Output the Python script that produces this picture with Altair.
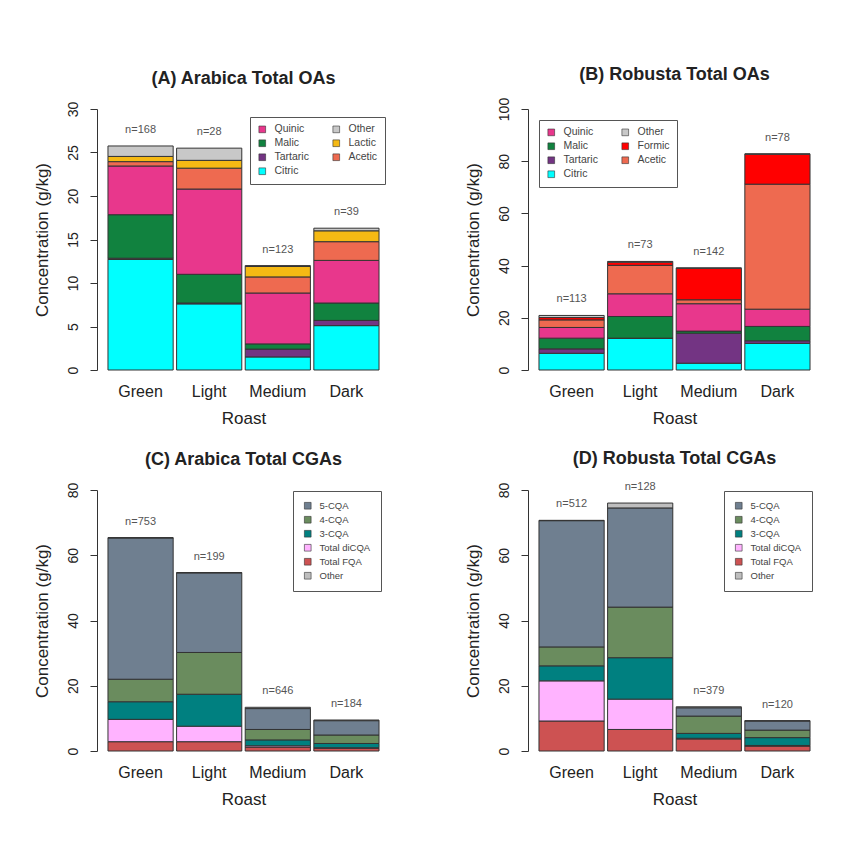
import altair as alt
import pandas as pd

roasts = ["Green", "Light", "Medium", "Dark"]

# ---- (A) Arabica organic acids (g/kg), stacked bottom -> top
ara_citric = [12.7, 7.6, 1.5, 5.1]
ara_tartaric = [0.15, 0.1, 0.9, 0.6]
ara_malic = [5.0, 3.3, 0.6, 2.0]
ara_quinic = [5.6, 9.8, 5.85, 4.9]
ara_acetic = [0.5, 2.4, 1.85, 2.15]
ara_lactic = [0.6, 0.9, 1.2, 1.25]
ara_other = [1.2, 1.4, 0.1, 0.3]
ara_oa_n = ["n=168", "n=28", "n=123", "n=39"]

# ---- (B) Robusta organic acids
rob_citric = [6.4, 12.1, 2.6, 10.2]
rob_tartaric = [1.7, 0.1, 11.5, 1.0]
rob_malic = [4.1, 8.3, 0.8, 5.5]
rob_quinic = [4.1, 8.7, 10.5, 6.6]
rob_acetic = [2.9, 10.9, 1.5, 47.9]
rob_formic = [0.9, 1.2, 12.1, 11.5]
rob_other = [0.8, 0.3, 0.1, 0.1]
rob_oa_n = ["n=113", "n=73", "n=142", "n=78"]

# ---- (C) Arabica chlorogenic acids
ara_fqa = [2.85, 2.85, 1.2, 0.8]
ara_dicqa = [6.85, 4.75, 0.4, 0.2]
ara_3cqa = [5.4, 9.8, 1.8, 1.3]
ara_4cqa = [6.9, 12.8, 3.2, 2.6]
ara_5cqa = [43.3, 24.4, 6.4, 4.4]
ara_cga_other = [0.1, 0.1, 0.4, 0.2]
ara_cga_n = ["n=753", "n=199", "n=646", "n=184"]

# ---- (D) Robusta chlorogenic acids
rob_fqa = [9.2, 6.6, 3.7, 1.5]
rob_dicqa = [12.3, 9.3, 0.2, 0.2]
rob_3cqa = [4.6, 12.7, 1.5, 2.4]
rob_4cqa = [5.8, 15.5, 5.3, 2.3]
rob_5cqa = [38.7, 30.4, 2.55, 2.8]
rob_cga_other = [0.1, 1.5, 0.3, 0.1]
rob_cga_n = ["n=512", "n=128", "n=379", "n=120"]

COL = {
    "Citric": "#00FFFF", "Tartaric": "#733483", "Malic": "#11823F",
    "Quinic": "#E8378C", "Acetic": "#EE6A50", "Lactic": "#F5B914",
    "Formic": "#FF0000", "Other": "#C8C8C8",
    "5-CQA": "#6F7F90", "4-CQA": "#6A8C5E", "3-CQA": "#008080",
    "Total diCQA": "#FFB3FF", "Total FQA": "#CD5252",
}
CGA_OTHER = "#BEBEBE"

FONT = "Liberation Sans"
W, H = 293, 261


def build(stack, legend_order, colors, ymax, ystep, title, nlab,
          lx, ly, cols, lfont, col_pad, lpad):
    rows = []
    for i, (name, vals) in enumerate(stack):
        for r, v in zip(roasts, vals):
            rows.append({"roast": r, "component": name, "value": v, "ord": i})
    df = pd.DataFrame(rows)
    tot = pd.DataFrame({
        "roast": roasts,
        "total": [sum(vals[k] for _, vals in stack) for k in range(4)],
        "label": nlab,
    })
    xenc = dict(
        sort=roasts, title="Roast",
        scale=alt.Scale(paddingInner=0.05, paddingOuter=0.16),
        axis=alt.Axis(domain=False, ticks=False, labelAngle=0, labelFontSize=16,
                      labelPadding=13, titleFontSize=17, titlePadding=11,
                      titleFontWeight="normal"),
    )
    yscale = alt.Scale(domain=[0, ymax], nice=False)
    yaxis = alt.Axis(values=list(range(0, ymax + 1, ystep)), grid=False,
                     tickSize=7, labelAngle=270, labelAlign="center",
                     labelBaseline="bottom", labelFontSize=14, labelPadding=10,
                     titleFontSize=17, titlePadding=15, titleFontWeight="normal")
    bars = alt.Chart(df).mark_bar(stroke="#333333", strokeWidth=1).encode(
        x=alt.X("roast:N", **xenc),
        y=alt.Y("value:Q", stack="zero", scale=yscale, axis=yaxis,
                title="Concentration (g/kg)"),
        color=alt.Color(
            "component:N",
            scale=alt.Scale(domain=legend_order, range=colors),
            legend=alt.Legend(
                title=None, orient="none", legendX=lx, legendY=ly,
                columns=cols, fillColor="white", strokeColor="#555555",
                padding=lpad, symbolType="square", symbolSize=45,
                symbolStrokeColor="#333333", symbolStrokeWidth=0.6,
                labelFontSize=lfont, labelColor="#444444", rowPadding=3,
                columnPadding=col_pad, labelOffset=7,
            ),
        ),
        order=alt.Order("ord:Q", sort="ascending"),
    )
    text = alt.Chart(tot).mark_text(dy=-16, fontSize=11, color="#555555",
                                    font=FONT).encode(
        x=alt.X("roast:N", **xenc),
        y=alt.Y("total:Q", scale=yscale, axis=yaxis, title="Concentration (g/kg)"),
        text="label:N",
    )
    return alt.layer(bars, text).properties(
        width=W, height=H,
        title=alt.TitleParams(title, fontSize=18, fontWeight="bold", offset=13,
                              frame="group", color="#222222"),
    )


# legend entries are laid out column by column
oa_leg_a = ["Quinic", "Malic", "Tartaric", "Citric", "Other", "Lactic", "Acetic"]
oa_leg_b = ["Quinic", "Malic", "Tartaric", "Citric", "Other", "Formic", "Acetic"]
cga_leg = ["5-CQA", "4-CQA", "3-CQA", "Total diCQA", "Total FQA", "Other"]
cga_cols = [COL[c] if c != "Other" else CGA_OTHER for c in cga_leg]

A = build(
    [("Citric", ara_citric), ("Tartaric", ara_tartaric), ("Malic", ara_malic),
     ("Quinic", ara_quinic), ("Acetic", ara_acetic), ("Lactic", ara_lactic),
     ("Other", ara_other)],
    oa_leg_a, [COL[c] for c in oa_leg_a], 30, 5, "(A) Arabica Total OAs",
    ara_oa_n, 153, 8, 2, 10.5, 22, 7)
B = build(
    [("Citric", rob_citric), ("Tartaric", rob_tartaric), ("Malic", rob_malic),
     ("Quinic", rob_quinic), ("Acetic", rob_acetic), ("Formic", rob_formic),
     ("Other", rob_other)],
    oa_leg_b, [COL[c] for c in oa_leg_b], 100, 20, "(B) Robusta Total OAs",
    rob_oa_n, 11, 11, 2, 10.5, 22, 7)
C = build(
    [("Total FQA", ara_fqa), ("Total diCQA", ara_dicqa), ("3-CQA", ara_3cqa),
     ("4-CQA", ara_4cqa), ("5-CQA", ara_5cqa), ("Other", ara_cga_other)],
    cga_leg, cga_cols, 80, 20, "(C) Arabica Total CGAs",
    ara_cga_n, 196, 1, 1, 9.5, 10, 10)
D = build(
    [("Total FQA", rob_fqa), ("Total diCQA", rob_dicqa), ("3-CQA", rob_3cqa),
     ("4-CQA", rob_4cqa), ("5-CQA", rob_5cqa), ("Other", rob_cga_other)],
    cga_leg, cga_cols, 80, 20, "(D) Robusta Total CGAs",
    rob_cga_n, 196, 1, 1, 9.5, 10, 10)

top = alt.hconcat(A, B, spacing=74).resolve_scale(color="independent")
bottom = alt.hconcat(C, D, spacing=74).resolve_scale(color="independent")

chart = alt.vconcat(top, bottom, spacing=24).resolve_scale(
    color="independent"
).properties(
    padding={"left": 25, "top": 58, "right": 0, "bottom": 0},
    background="white",
).configure(
    font=FONT,
).configure_view(
    stroke=None,
).configure_axis(
    domainColor="#333333", tickColor="#333333", labelColor="#222222",
    titleColor="#222222", labelFont=FONT, titleFont=FONT,
).configure_legend(
    labelFont=FONT,
)

chart.save("out.html", embed_options={"renderer": "svg", "actions": False})
